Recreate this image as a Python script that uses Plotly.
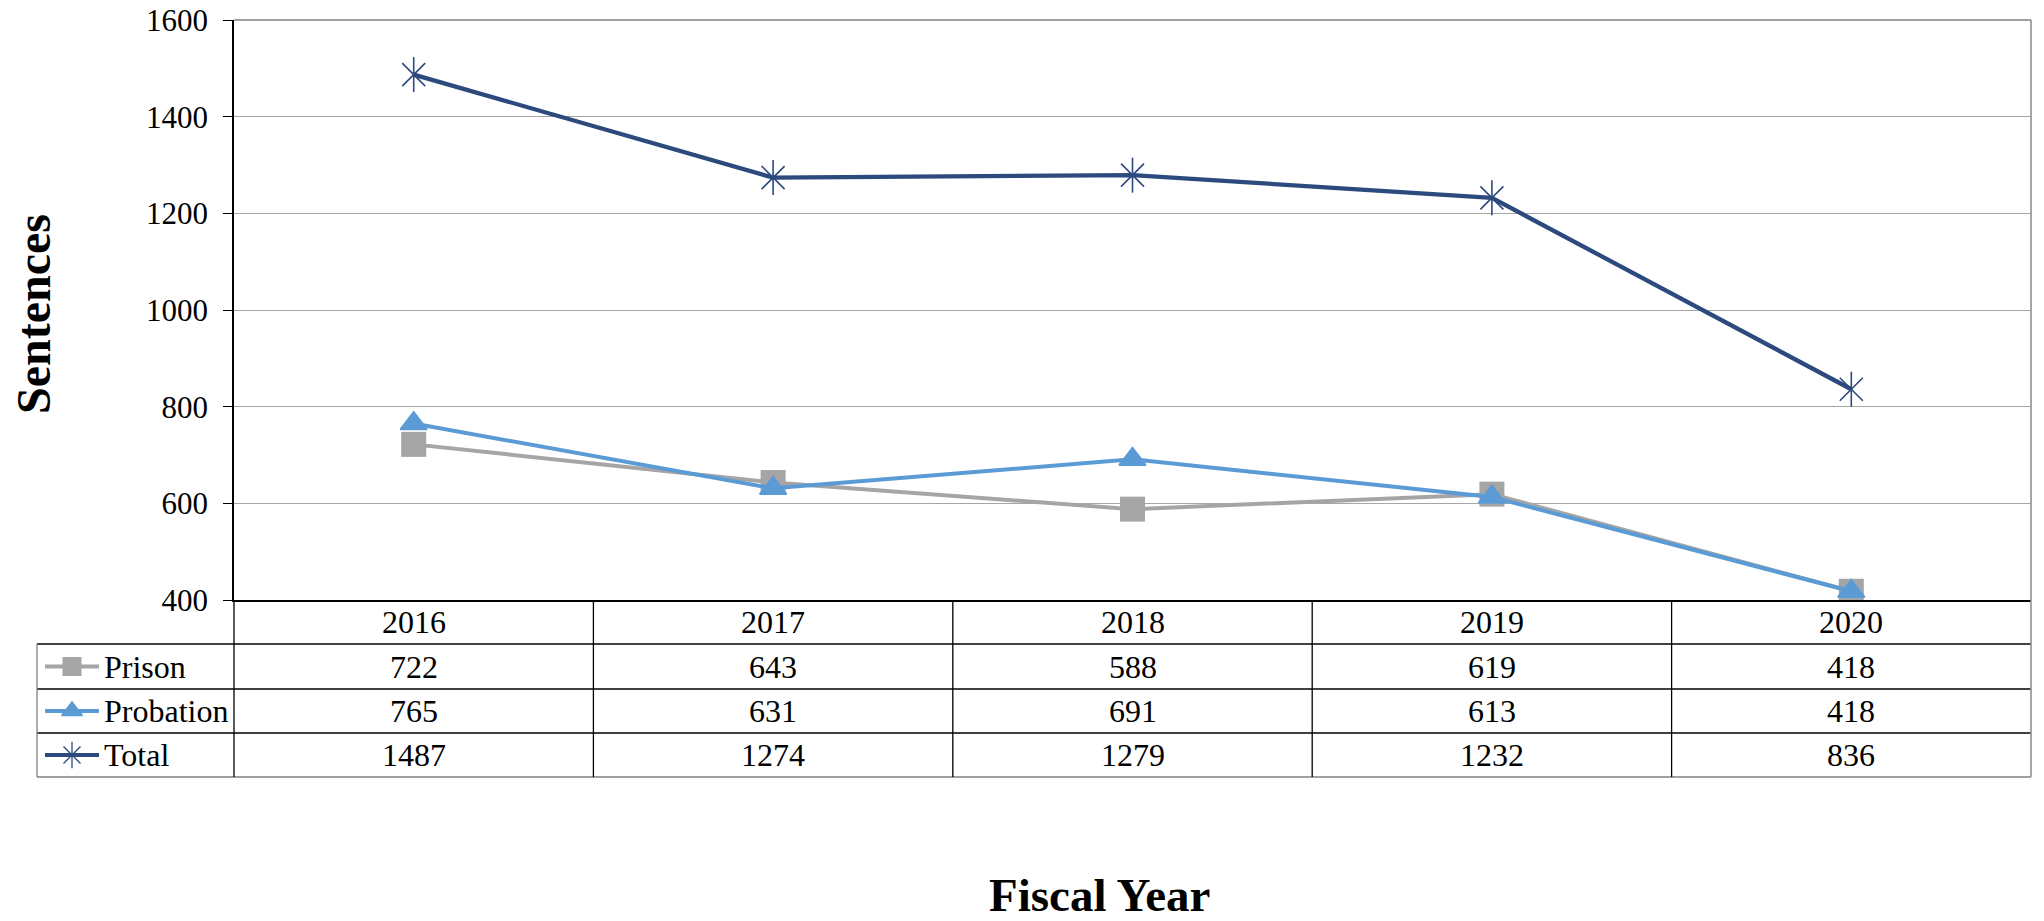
import plotly.graph_objects as go

# ---------------- data ----------------
years = ["2016", "2017", "2018", "2019", "2020"]
prison = [722, 643, 588, 619, 418]
probation = [765, 631, 691, 613, 418]
total = [1487, 1274, 1279, 1232, 836]
series_names = ["Prison", "Probation", "Total"]
y_ticks = [400, 600, 800, 1000, 1200, 1400, 1600]

# ---------------- layout constants (pixels) ----------------
W, H = 2044, 921
PL, PR, PT, PB = 234, 2031, 20, 600
ROWS = [600, 644, 689, 733, 777]
TL = 37
FONT = "Liberation Serif"
C_PRISON = "#A5A5A5"
C_PROB = "#5B9BD5"
C_TOTAL = "#2C4A7E"

fig = go.Figure()

# main series
fig.add_trace(go.Scatter(x=years, y=prison, mode="lines+markers", name=series_names[0],
                         line=dict(color=C_PRISON, width=4),
                         marker=dict(symbol="square", size=25, color=C_PRISON),
                         xaxis="x", yaxis="y", showlegend=False))
fig.add_trace(go.Scatter(x=years, y=probation, mode="lines+markers", name=series_names[1],
                         line=dict(color=C_PROB, width=4),
                         marker=dict(symbol="triangle-up", size=23, color=C_PROB,
                                     line=dict(color=C_PROB, width=2)),
                         xaxis="x", yaxis="y", showlegend=False))
fig.add_trace(go.Scatter(x=years, y=total, mode="lines+markers", name=series_names[2],
                         line=dict(color=C_TOTAL, width=4.3),
                         marker=dict(symbol="x-thin-open", size=23, color=C_TOTAL,
                                     line=dict(color=C_TOTAL, width=1.6)),
                         xaxis="x", yaxis="y", showlegend=False))
fig.add_trace(go.Scatter(x=years, y=total, mode="markers", name=series_names[2],
                         marker=dict(symbol="line-ns-open", size=25, color=C_TOTAL,
                                     line=dict(color=C_TOTAL, width=1.6)),
                         xaxis="x", yaxis="y", showlegend=False, hoverinfo="skip"))

# ---------------- table (pixel axis x2/y2) ----------------
shapes = []
annotations = []
ncol = len(years)
cw = (PR - PL) / ncol
col_x = [PL + cw * i for i in range(ncol + 1)]

def hline(y, x0, x1, color="black", w=1.3):
    shapes.append(dict(type="line", xref="x2", yref="y2", x0=x0, x1=x1, y0=y, y1=y,
                       line=dict(color=color, width=w)))

def vline(x, y0, y1, color="black", w=1.3):
    shapes.append(dict(type="line", xref="x2", yref="y2", x0=x, x1=x, y0=y0, y1=y1,
                       line=dict(color=color, width=w)))

for y in ROWS[1:4]:
    hline(y, TL, PR)
hline(ROWS[4], TL, PR, color="#808080", w=1.6)
vline(TL, ROWS[1], ROWS[4], color="#808080", w=1.3)
for i, x in enumerate(col_x[:-1]):
    vline(x, ROWS[0], ROWS[4])
vline(PR, PT, ROWS[4], color="#909090", w=1.6)
# top border of plot area
hline(PT, PL, PR, color="#808080", w=1.6)

tfont = dict(family=FONT, size=32, color="black")
for i, yr in enumerate(years):
    cx = (col_x[i] + col_x[i + 1]) / 2
    annotations.append(dict(xref="x2", yref="y2", x=cx, y=(ROWS[0] + ROWS[1]) / 2, text=yr,
                            showarrow=False, font=tfont, xanchor="center", yanchor="middle"))
    for r, vals in enumerate([prison, probation, total]):
        annotations.append(dict(xref="x2", yref="y2", x=cx, y=(ROWS[r + 1] + ROWS[r + 2]) / 2,
                                text=str(vals[i]), showarrow=False, font=tfont,
                                xanchor="center", yanchor="middle"))

legend_styles = [
    (C_PRISON, dict(symbol="square", size=19, color=C_PRISON), None),
    (C_PROB, dict(symbol="triangle-up", size=18, color=C_PROB, line=dict(color=C_PROB, width=1.5)), None),
    (C_TOTAL, dict(symbol="x-thin-open", size=17, color=C_TOTAL, line=dict(color=C_TOTAL, width=1.3)),
     dict(symbol="line-ns-open", size=19, color=C_TOTAL, line=dict(color=C_TOTAL, width=1.3))),
]
for r, name in enumerate(series_names):
    cy = (ROWS[r + 1] + ROWS[r + 2]) / 2
    color, mk, mk2 = legend_styles[r]
    fig.add_trace(go.Scatter(x=[45, 99], y=[cy, cy], mode="lines", line=dict(color=color, width=4),
                             xaxis="x2", yaxis="y2", showlegend=False, hoverinfo="skip"))
    fig.add_trace(go.Scatter(x=[72], y=[cy], mode="markers", marker=mk,
                             xaxis="x2", yaxis="y2", showlegend=False, hoverinfo="skip"))
    if mk2:
        fig.add_trace(go.Scatter(x=[72], y=[cy], mode="markers", marker=mk2,
                                 xaxis="x2", yaxis="y2", showlegend=False, hoverinfo="skip"))
    annotations.append(dict(xref="x2", yref="y2", x=102, y=cy, text=name, showarrow=False,
                            font=tfont, xanchor="left", yanchor="middle"))

# axis titles
annotations.append(dict(xref="x2", yref="y2", x=1099, y=895, text="<b>Fiscal Year</b>",
                        showarrow=False, font=dict(family=FONT, size=47, color="black"),
                        xanchor="center", yanchor="middle"))
annotations.append(dict(xref="x2", yref="y2", x=33, y=314, text="<b>Sentences</b>", textangle=-90,
                        showarrow=False, font=dict(family=FONT, size=48, color="black"),
                        xanchor="center", yanchor="middle"))

fig.update_layout(
    width=W, height=H,
    margin=dict(l=0, r=0, t=0, b=0, pad=0, autoexpand=False),
    paper_bgcolor="white", plot_bgcolor="rgba(0,0,0,0)",
    shapes=shapes, annotations=annotations,
    xaxis=dict(domain=[PL / W, PR / W], type="category", range=[-0.5, ncol - 0.5],
               showticklabels=False, showgrid=False, zeroline=False, automargin=False,
               showline=True, linecolor="black", linewidth=1.5, anchor="y", fixedrange=True),
    yaxis=dict(domain=[1 - PB / H, 1 - PT / H], range=[400, 1600], tickvals=y_ticks,
               showgrid=True, gridcolor="#A6A6A6", gridwidth=1.3, zeroline=False,
               showline=True, linecolor="black", linewidth=1.5, automargin=False,
               ticks="outside", ticklen=9, tickcolor="black", tickwidth=1.3,
               ticklabelstandoff=9,
               tickfont=dict(family=FONT, size=31, color="black"), anchor="x"),
    xaxis2=dict(domain=[0, 1], range=[0, W], visible=False, anchor="y2", fixedrange=True,
                automargin=False),
    yaxis2=dict(domain=[0, 1], range=[H, 0], visible=False, anchor="x2", fixedrange=True,
                automargin=False),
    showlegend=False,
)

fig.write_html("out.html", config={"displayModeBar": False},
               post_script="document.body.style.margin='0px';document.body.style.padding='0px';"
                           "document.body.style.overflow='hidden';")
